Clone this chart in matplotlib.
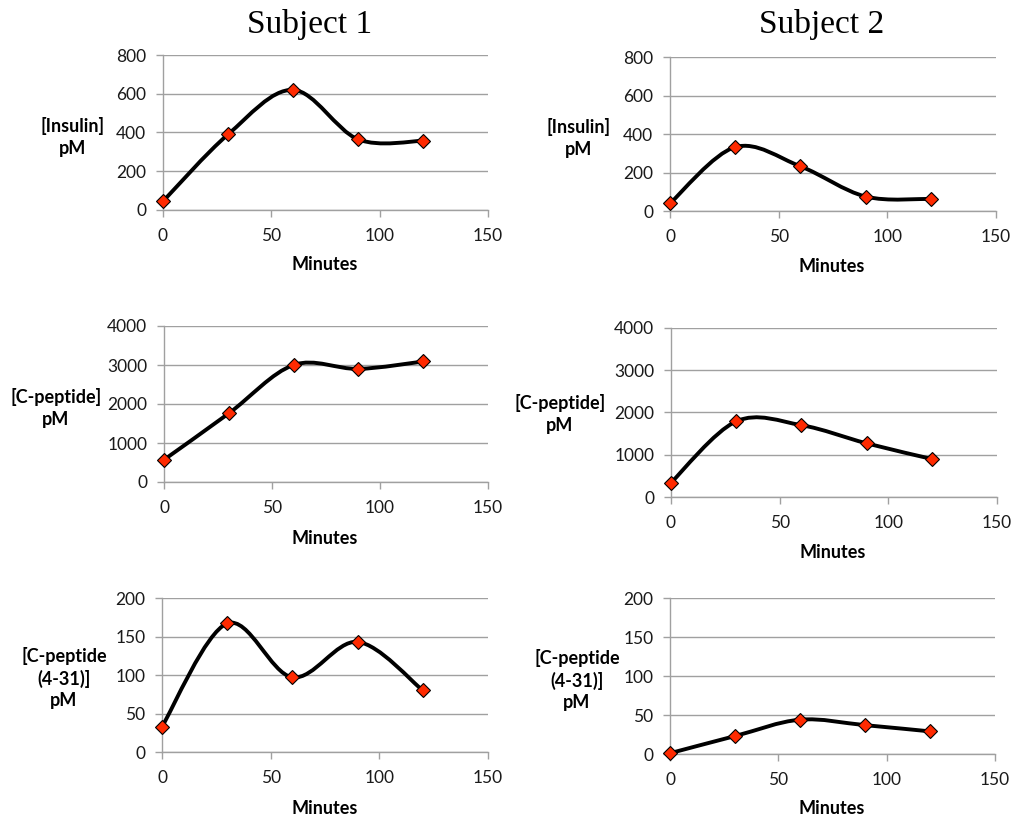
import matplotlib

matplotlib.use("Agg")
import matplotlib.pyplot as plt
from matplotlib.path import Path
from matplotlib.patches import PathPatch

W, H = 1016, 822

minutes = [0, 30, 60, 90, 120]
s1_insulin = [45, 390, 620, 365, 357]
s2_insulin = [40, 332, 232, 75, 63]
s1_cpep = [570, 1760, 3000, 2900, 3090]
s2_cpep = [340, 1790, 1700, 1270, 900]
s1_cpep431 = [33, 167, 97, 143, 80]
s2_cpep431 = [1, 23, 44, 37, 29]

titles = ["Subject 1", "Subject 2"]
ylabels = ["[Insulin]\npM", "[C-peptide]\npM", "[C-peptide\n(4-31)]\npM"]
ymaxes = [800, 4000, 200]
ysteps = [200, 1000, 50]
xticks = [0, 50, 100, 150]

GRID = "#a0a0a0"
MARKER = "#ff2a00"
plt.rcParams["font.family"] = ["Lato", "DejaVu Sans"]


def smooth_path(x, y):
    # Excel-style smoothed line: cubic Bezier with Catmull-Rom tangents
    pts = list(zip(x, y))
    verts = [pts[0]]
    codes = [Path.MOVETO]
    n = len(pts)
    for i in range(n - 1):
        p0 = pts[i - 1] if i > 0 else pts[i]
        p1, p2 = pts[i], pts[i + 1]
        p3 = pts[i + 2] if i + 2 < n else pts[i + 1]
        c1 = (p1[0] + (p2[0] - p0[0]) / 6, p1[1] + (p2[1] - p0[1]) / 6)
        c2 = (p2[0] - (p3[0] - p1[0]) / 6, p2[1] - (p3[1] - p1[1]) / 6)
        verts += [c1, c2, p2]
        codes += [Path.CURVE4] * 3
    return Path(verts, codes)


def px_axes(fig, l, r, t, b):
    return fig.add_axes([l / W, 1 - b / H, (r - l) / W, (b - t) / H])


fig = plt.figure(figsize=(W / 100, H / 100), dpi=100)

panels = [
    # (data, row, box l r t b, ylabel centre, xlabel centre)
    (s1_insulin, 0, (163, 488, 55, 210), (73, 137), (325, 265)),
    (s2_insulin, 0, (670, 996, 57, 211), (579, 138), (832, 267)),
    (s1_cpep, 1, (164, 488, 326, 482), (56, 408), (325, 538)),
    (s2_cpep, 1, (671, 997, 328, 497), (560, 414), (833, 552)),
    (s1_cpep431, 2, (162, 488, 598, 752), (64, 678), (325, 808)),
    (s2_cpep431, 2, (670, 995, 598, 754), (577, 680), (832, 808)),
]

for values, row, box, ylab_xy, xlab_xy in panels:
    ax = px_axes(fig, *box)
    ymax, step = ymaxes[row], ysteps[row]
    ax.set_xlim(0, 150)
    ax.set_ylim(0, ymax)
    ax.set_xticks(xticks)
    ax.set_yticks(range(0, ymax + 1, step))
    ax.grid(axis="y", color=GRID, lw=1)
    ax.set_axisbelow(True)
    for side in ["top", "right"]:
        ax.spines[side].set_visible(False)
    for side in ["left", "bottom"]:
        ax.spines[side].set_color(GRID)
        ax.spines[side].set_linewidth(1)
    ax.tick_params(colors=GRID, labelcolor="#1a1a1a", labelsize=12.5,
                   length=5, width=1, direction="out")
    ax.tick_params(axis="y", pad=7)
    ax.tick_params(axis="x", pad=8)

    ax.add_patch(PathPatch(smooth_path(minutes, values), fill=False,
                           ec="black", lw=2.8, capstyle="round",
                           joinstyle="round", zorder=3, clip_on=False))
    ax.plot(minutes, values, ls="none", marker="D", ms=7.3,
            mfc=MARKER, mec="black", mew=0.8, zorder=4, clip_on=False)

    fig.text(ylab_xy[0] / W, 1 - ylab_xy[1] / H, ylabels[row],
             ha="center", va="center", fontsize=13, fontweight="bold",
             linespacing=1.3)
    fig.text(xlab_xy[0] / W, 1 - xlab_xy[1] / H, "Minutes",
             ha="center", va="center", fontsize=13, fontweight="bold")

for title, cx in zip(titles, [310, 822]):
    fig.text(cx / W, 1 - 33 / H, title, ha="center", va="baseline",
             fontsize=24, family=["Liberation Serif", "DejaVu Serif"])

fig.savefig("out.png", dpi=100)
